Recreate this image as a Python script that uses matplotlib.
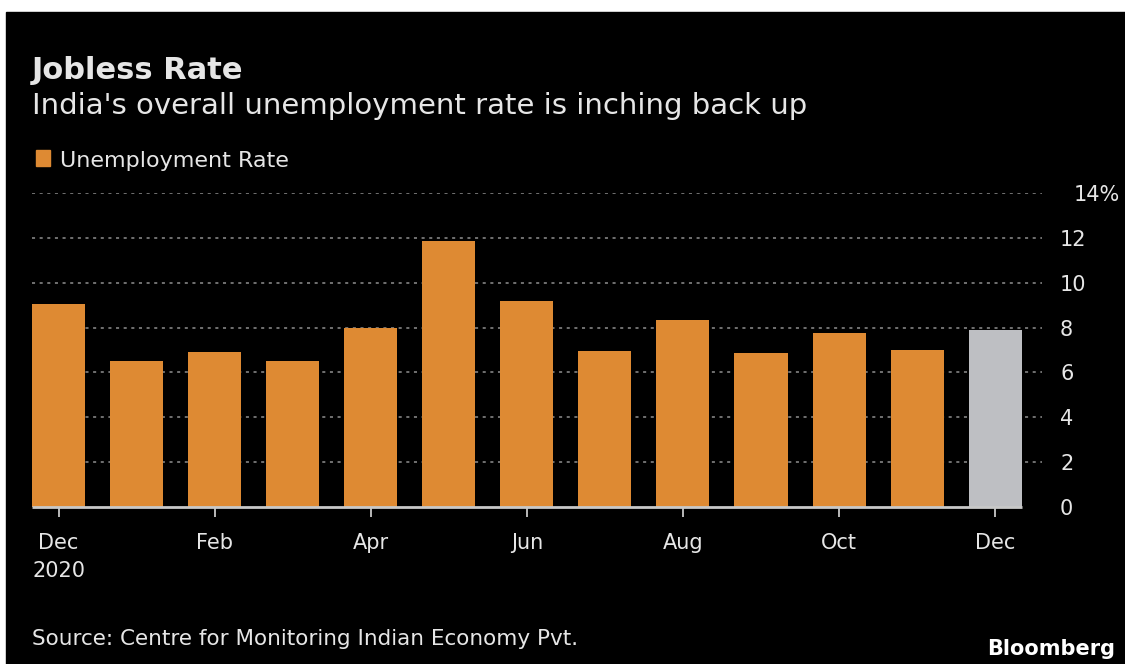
import matplotlib.pyplot as plt
from matplotlib.patches import Rectangle
from matplotlib.transforms import ScaledTranslation

# Monthly unemployment rate, Dec 2020 .. Dec 2021 (%)
months = ["Dec", "Jan", "Feb", "Mar", "Apr", "May", "Jun",
          "Jul", "Aug", "Sep", "Oct", "Nov", "Dec"]
rates = [9.06, 6.52, 6.89, 6.50, 7.97, 11.84, 9.17,
         6.95, 8.32, 6.86, 7.75, 7.00, 7.91]
tick_labels = ["Dec\n2020", "Feb", "Apr", "Jun", "Aug", "Oct", "Dec"]
y_ticks = [0, 2, 4, 6, 8, 10, 12, 14]
y_labels = ["0", "2", "4", "6", "8", "10", "12", "14%"]

orange = "#DE8A33"
grey_bar = "#BEBFC3"
txt = "#E6E6E6"

plt.rcParams['font.family'] = ['DejaVu Sans']

fig = plt.figure(figsize=(11.25, 6.64), dpi=100)
fig.patch.set_facecolor("white")
# black panel (thin white margin on top and left like the screenshot)
fig.patches.append(Rectangle((6 / 1125, 0), 1, 1 - 12 / 664,
                             transform=fig.transFigure, color="black", zorder=-5))

ax = fig.add_axes([32 / 1125, 1 - 507 / 664, (1042 - 32) / 1125, (507 - 193) / 664])
ax.set_zorder(2)
ax.set_facecolor("black")

x = list(range(len(rates)))
colors = [orange] * (len(rates) - 1) + [grey_bar]
ax.bar(x, rates, width=0.68, color=colors, zorder=3)

ax.set_xlim(-0.34, 12.6)
ax.set_ylim(0, 14)

# dotted grid
for y in y_ticks[1:]:
    ax.axhline(y, color="#8F8F8F", lw=1.1, ls=(0, (2, 3)), zorder=1)
# baseline under bars
ax.plot([-0.34, len(rates) - 1 + 0.34], [0, 0], color="#C8C8C8", lw=2, zorder=4,
        solid_capstyle="butt", clip_on=False)

for s in ax.spines.values():
    s.set_visible(False)

ax.yaxis.tick_right()
ax.set_yticks(y_ticks)
ax.set_yticklabels(y_labels)
ax.tick_params(axis="y", length=0, pad=13, labelsize=15, labelcolor=txt)
for lab in ax.get_yticklabels():
    lab.set_horizontalalignment("left")
# the top label is nudged right in the original
top = ax.get_yticklabels()[-1]
top.set_transform(top.get_transform() + ScaledTranslation(0.14, 0, fig.dpi_scale_trans))

ax.set_xticks(x[::2])
ax.set_xticklabels(tick_labels, linespacing=1.5)
ax.tick_params(axis="x", length=7, width=1.3, color="#C8C8C8", pad=12,
               labelsize=15, labelcolor=txt)

# titles and legend
fig.text(32 / 1125, 1 - 79 / 664, "Jobless Rate", fontsize=22, fontweight="bold",
         color=txt, va="baseline")
fig.text(32 / 1125, 1 - 114 / 664, "India's overall unemployment rate is inching back up",
         fontsize=21, color=txt, va="baseline")
fig.patches.append(Rectangle((36 / 1125, 1 - 166 / 664), 14 / 1125, 16 / 664,
                             transform=fig.transFigure, color=orange, zorder=2))
fig.text(60 / 1125, 1 - 167 / 664, "Unemployment Rate", fontsize=16, color=txt,
         va="baseline")

fig.text(32 / 1125, 1 - 645 / 664, "Source: Centre for Monitoring Indian Economy Pvt.",
         fontsize=15.5, color=txt, va="baseline")
fig.text(1115 / 1125, 1 - 655 / 664, "Bloomberg", fontsize=15, fontweight="bold",
         color="white", ha="right", va="baseline")

fig.savefig("out.png", dpi=100, facecolor=fig.get_facecolor())
